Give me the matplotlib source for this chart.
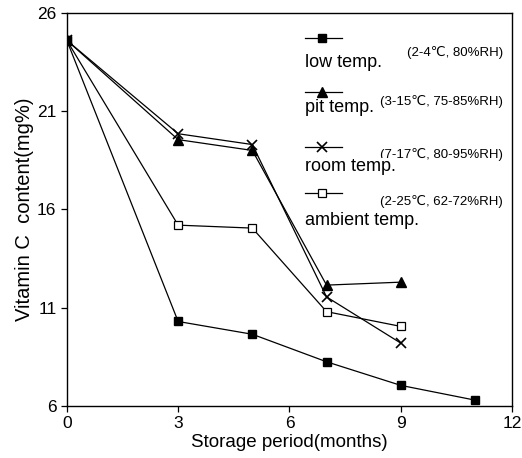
import matplotlib.pyplot as plt

plt.rcParams['font.family'] = ['Liberation Sans', 'DejaVu Sans']

months_low = [0, 3, 5, 7, 9, 11]
vc_low = [24.6, 10.3, 9.65, 8.25, 7.05, 6.3]

months = [0, 3, 5, 7, 9]
vc_pit = [24.6, 19.55, 19.0, 12.15, 12.3]
vc_room = [24.6, 19.85, 19.3, 11.55, 9.2]
vc_ambient = [24.6, 15.2, 15.05, 10.8, 10.05]

names = ['low temp.', 'pit temp.', 'room temp.', 'ambient temp.']
conditions = ['(2-4\u2103, 80%RH)', '(3-15\u2103, 75-85%RH)',
              '(7-17\u2103, 80-95%RH)', '(2-25\u2103, 62-72%RH)']

fig = plt.figure(figsize=(5.22, 4.58), dpi=100)
ax = fig.add_axes([0.128, 0.1135, 0.853, 0.8585])

lw = 0.9
styles = [
    dict(marker='s', ms=6, mfc='black', mec='black'),
    dict(marker='^', ms=7, mfc='black', mec='black'),
    dict(marker='x', ms=7, mew=1.2, mec='black'),
    dict(marker='s', ms=6, mfc='white', mec='black', mew=0.9),
]

ax.plot(months, vc_ambient, color='black', lw=lw, **styles[3])
ax.plot(months, vc_room, color='black', lw=lw, **styles[2])
ax.plot(months, vc_pit, color='black', lw=lw, **styles[1])
ax.plot(months_low, vc_low, color='black', lw=lw, zorder=3, **styles[0])

ax.set_xlim(0, 12)
ax.set_ylim(6, 26)
ax.set_xticks([0, 3, 6, 9, 12])
ax.set_yticks([6, 11, 16, 21, 26])
ax.tick_params(direction='out', length=4, width=0.9, labelsize=12.5, colors='black')
for s in ax.spines.values():
    s.set_linewidth(1.0)

ax.set_xlabel('Storage period(months)', fontsize=13.5, labelpad=2)
ax.set_ylabel('Vitamin C  content(mg%)', fontsize=14.5, labelpad=2)

# hand-made legend: sample line, conditions to the right, name underneath
sample_y = [0.936, 0.799, 0.659, 0.542]
cond_y = [0.898, 0.774, 0.639, 0.519]
name_y = [0.873, 0.758, 0.608, 0.473]
for i in range(4):
    ax.plot([0.535, 0.618], [sample_y[i]] * 2, color='black', lw=lw,
            transform=ax.transAxes, clip_on=False)
    ax.plot([0.573], [sample_y[i]], color='black', transform=ax.transAxes,
            clip_on=False, **styles[i])
    ax.text(0.98, cond_y[i], conditions[i], transform=ax.transAxes,
            ha='right', va='center', fontsize=9.5)
    ax.text(0.535, name_y[i], names[i], transform=ax.transAxes,
            ha='left', va='center', fontsize=13,
            bbox=dict(facecolor='white', edgecolor='none', pad=0.5))

fig.savefig('out.png', dpi=100)
